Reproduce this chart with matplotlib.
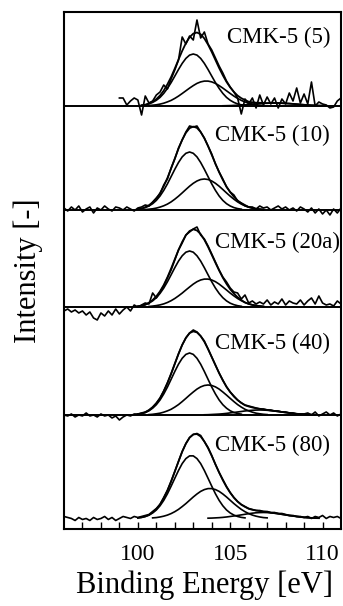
import numpy as np
import matplotlib.pyplot as plt

plt.rcParams['font.family'] = ['Liberation Serif', 'DejaVu Serif']

# binding energy grid of the scans (eV)
energy = np.round(np.arange(96.0, 111.01, 0.2), 1)

samples = ["CMK-5 (5)", "CMK-5 (10)", "CMK-5 (20a)", "CMK-5 (40)", "CMK-5 (80)"]

# measured Si 2p spectra (a.u.), CMK-5 (5) starts at 99 eV
raw_starts = [99.0, 96.0, 96.0, 96.0, 96.0]
raw_5 = [8, 8, 1, 5, 8,
         6, -9, 10, 3, 5,
         11, 14, 21, 17, 27,
         36, 46, 69, 62, 70,
         66, 86, 68, 74, 62,
         56, 48, 40, 33, 25,
         19, 14, 8, -8, 7,
         2, 8, -2, 11, 1,
         9, 2, 8, -2, 7,
         2, 13, 5, 18, 3,
         12, 2, 24, 0, 4,
         2, 1, -2, -1, 5,
         8]
raw_10 = [2, -1, 3, 0, 4,
          -2, 1, 3, -3, 2,
          0, 4, 1, -1, 3,
          2, 0, 3, 1, -1,
          2, 3, 5, 4, 8,
          12, 16, 25, 31, 42,
          51, 62, 70, 78, 84,
          83, 84, 78, 72, 64,
          56, 46, 38, 31, 23,
          18, 15, 9, 7, 5,
          3, 3, 1, 4, 2,
          3, 0, 2, 4, 1,
          3, 0, 2, -1, 3,
          1, -2, 2, -3, 1,
          -4, 0, -5, 1, -3,
          2]
raw_20a = [-4, -2, -5, -3, -6,
           -4, -8, -5, -11, -13,
           -6, -9, -4, -8, -2,
           -7, -3, 0, -4, 2,
           0, 2, 4, 3, 14,
           9, 15, 21, 29, 37,
           47, 57, 64, 72, 75,
           78, 80, 72, 68, 61,
           53, 45, 37, 30, 25,
           19, 15, 14, 8, 12,
           4, 6, 3, 5, 3,
           7, 2, 5, 3, 8,
           2, 6, 4, 3, 7,
           2, 6, 9, 3, 11,
           4, 2, 3, 1, 6,
           3]
raw_40 = [0, -1, 1, -2, 0,
          -1, 2, -1, 0, -2,
          1, -1, 0, -3, -1,
          -5, -2, 0, -1, 1,
          1, 2, 3, 5, 8,
          12, 17, 24, 32, 41,
          51, 61, 70, 77, 82,
          85, 83, 79, 74, 66,
          58, 50, 42, 35, 28,
          23, 19, 15, 12, 10,
          9, 8, 7, 6, 6,
          5, 5, 4, 4, 3,
          3, 2, 2, 1, 1,
          1, 2, 0, 3, -1,
          1, 3, 0, 2, -1,
          1]
raw_80 = [2, 1, 0, -2, 1,
          -1, 0, -2, 1, -1,
          0, 2, -1, 1, -2,
          0, 2, 1, 0, 2,
          1, 2, 3, 4, 7,
          10, 14, 21, 28, 37,
          47, 57, 67, 75, 81,
          84, 85, 83, 77, 71,
          63, 54, 46, 39, 32,
          26, 21, 17, 14, 12,
          10, 9, 8, 8, 7,
          7, 6, 6, 5, 5,
          4, 3, 3, 2, 2,
          1, 2, 0, 2, 1,
          3, 0, 2, 1, 2,
          0]

# fitted components: (start energy, values on the 0.2 eV grid)
fit_5 = [
    (100.2, [0.7, 1.2, 2.1, 3.6, 5.7, 8.6, 12.6, 17.6, 23.4, 29.9, 36.5, 42.6, 47.6, 50.9,
             52.0, 50.9, 47.6, 42.6, 36.5, 29.9, 23.4, 17.6, 12.6, 8.6, 5.7, 3.6, 2.1, 1.2,
             0.7]),
    (100.6, [0.5, 0.8, 1.2, 1.9, 2.8, 4.1, 5.6, 7.6, 9.9, 12.5, 15.2, 17.9, 20.4, 22.6,
             24.1, 24.9, 24.9, 24.1, 22.6, 20.4, 17.9, 15.2, 12.5, 9.9, 7.6, 5.6, 4.1, 2.8,
             1.9, 1.2, 0.8, 0.5]),
    (104.6, [0.2, 0.3, 0.4, 0.6, 0.7, 1.0, 1.2, 1.5, 1.8, 2.1, 2.4, 2.6, 2.8, 3.0, 3.0,
             3.0, 2.8, 2.6, 2.4, 2.1, 1.8, 1.5, 1.2, 1.0, 0.7, 0.6, 0.4, 0.3, 0.2]),
]
fit_10 = [
    (100.0, [0.8, 1.4, 2.4, 4.0, 6.3, 9.6, 14.0, 19.6, 26.1, 33.4, 40.7, 47.5, 53.1, 56.7,
             58.0, 56.7, 53.1, 47.5, 40.7, 33.4, 26.1, 19.6, 14.0, 9.6, 6.3, 4.0, 2.4, 1.4,
             0.8]),
    (100.4, [0.4, 0.8, 1.2, 1.9, 2.9, 4.2, 5.9, 8.1, 10.8, 13.8, 17.1, 20.5, 23.8, 26.7,
             29.0, 30.5, 31.0, 30.5, 29.0, 26.7, 23.8, 20.5, 17.1, 13.8, 10.8, 8.1, 5.9,
             4.2, 2.9, 1.9, 1.2, 0.8, 0.4]),
]
fit_20a = [
    (100.0, [0.7, 1.3, 2.3, 3.8, 6.1, 9.3, 13.6, 18.9, 25.2, 32.2, 39.3, 45.9, 51.2, 54.8,
             56.0, 54.8, 51.2, 45.9, 39.3, 32.2, 25.2, 18.9, 13.6, 9.3, 6.1, 3.8, 2.3, 1.3,
             0.7]),
    (100.6, [0.5, 0.9, 1.4, 2.1, 3.1, 4.5, 6.3, 8.5, 11.1, 13.9, 17.0, 20.0, 22.9, 25.3,
             27.0, 27.9, 27.9, 27.0, 25.3, 22.9, 20.0, 17.0, 13.9, 11.1, 8.5, 6.3, 4.5, 3.1,
             2.1, 1.4, 0.9, 0.5]),
]
fit_40 = [
    (100.0, [0.8, 1.5, 2.5, 4.2, 6.8, 10.3, 15.0, 21.0, 27.9, 35.7, 43.5, 50.8, 56.7, 60.6,
             62.0, 60.6, 56.7, 50.8, 43.5, 35.7, 27.9, 21.0, 15.0, 10.3, 6.8, 4.2, 2.5, 1.5,
             0.8]),
    (100.6, [0.4, 0.7, 1.2, 1.8, 2.8, 4.1, 5.7, 7.9, 10.4, 13.4, 16.6, 19.9, 23.0, 25.9,
             28.1, 29.5, 30.0, 29.5, 28.1, 25.9, 23.0, 19.9, 16.6, 13.4, 10.4, 7.9, 5.7,
             4.1, 2.8, 1.8, 1.2, 0.7, 0.4]),
    (103.6, [0.2, 0.3, 0.5, 0.7, 0.9, 1.2, 1.6, 2.1, 2.5, 3.0, 3.5, 4.0, 4.4, 4.7, 4.9, 5.0,
             4.9, 4.7, 4.4, 4.0, 3.5, 3.0, 2.5, 2.1, 1.6, 1.2, 0.9, 0.7, 0.5, 0.3, 0.2]),
]
fit_80 = [
    (100.0, [0.6, 1.1, 2.0, 3.4, 5.5, 8.5, 12.7, 18.1, 24.7, 32.3, 40.2, 48.0, 54.9, 59.9,
             62.6, 62.6, 59.9, 54.9, 48.0, 40.2, 32.3, 24.7, 18.1, 12.7, 8.5, 5.5, 3.4, 2.0,
             1.1, 0.6]),
    (100.8, [0.6, 0.9, 1.5, 2.3, 3.4, 4.9, 6.8, 9.1, 11.9, 14.9, 18.2, 21.5, 24.5, 27.1,
             28.9, 29.9, 29.9, 28.9, 27.1, 24.5, 21.5, 18.2, 14.9, 11.9, 9.1, 6.8, 4.9, 3.4,
             2.3, 1.5, 0.9, 0.6]),
    (103.8, [0.3, 0.4, 0.6, 0.8, 1.1, 1.5, 2.0, 2.5, 3.0, 3.6, 4.2, 4.8, 5.3, 5.7, 5.9, 6.0,
             5.9, 5.7, 5.3, 4.8, 4.2, 3.6, 3.0, 2.5, 2.0, 1.5, 1.1, 0.8, 0.6, 0.4, 0.3]),
]

raws = [raw_5, raw_10, raw_20a, raw_40, raw_80]
fits = [fit_5, fit_10, fit_20a, fit_40, fit_80]

# vertical stacking of the spectra and label placement
offsets = [423, 319, 222, 114, 10.5]
label_x = [104.85, 104.2, 104.2, 104.2, 104.2]
label_dy = [69, 75, 65, 72, 73]


def grid_index(e):
    return int(round((e - energy[0]) / 0.2))


fig = plt.figure(figsize=(3.43, 6.06), dpi=100)
ax = fig.add_axes([0.1866, 0.1271, 0.8076, 0.8531])

for i in range(len(samples)):
    off = offsets[i]
    j0 = grid_index(raw_starts[i])
    ax.plot(energy[j0:j0 + len(raws[i])], np.array(raws[i]) + off,
            color='k', lw=1.2)

    envelope = np.zeros(len(energy))
    for start, vals in fits[i]:
        j = grid_index(start)
        ax.plot(energy[j:j + len(vals)], np.array(vals) + off, color='k', lw=1.2)
        envelope[j:j + len(vals)] += vals
    nz = np.nonzero(envelope)[0]
    sl = slice(nz[0], nz[-1] + 1)
    ax.plot(energy[sl], envelope[sl] + off, color='k', lw=1.3)

    if i < len(samples) - 1:
        ax.axhline(off, color='k', lw=1.4)
    ax.text(label_x[i], off + label_dy[i], samples[i], fontsize=16.5,
            va='center', ha='left')

ax.set_xlim(96, 111)
ax.set_ylim(0, 517)
ax.set_xticks(range(97, 111))
ax.set_xticklabels([str(t) if t % 5 == 0 else '' for t in range(97, 111)])
ax.set_yticks([])
ax.tick_params(axis='x', direction='in', length=5, width=1.0,
               labelsize=17, pad=10.5)
for sp in ax.spines.values():
    sp.set_linewidth(1.5)

fig.text(204 / 343, 1 - 585 / 606, "Binding Energy [eV]", fontsize=22,
         ha='center', va='center')
fig.text(28 / 343, 1 - 271 / 606, "Intensity [-]", fontsize=22,
         rotation=90, ha='center', va='center')

fig.savefig('out.png', dpi=100)
